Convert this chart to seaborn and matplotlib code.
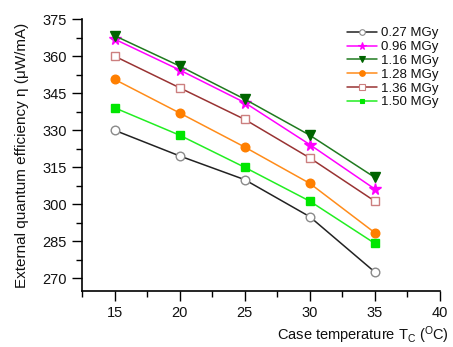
import matplotlib
matplotlib.use("Agg")
import matplotlib.pyplot as plt
import seaborn as sns
import pandas as pd
from matplotlib.ticker import MultipleLocator
from matplotlib.lines import Line2D

sns.set_style("ticks")
plt.rcParams['font.family'] = ['Liberation Sans', 'DejaVu Sans']
plt.rcParams['mathtext.fontset'] = 'custom'
plt.rcParams['mathtext.rm'] = 'Liberation Sans'
plt.rcParams['mathtext.it'] = 'Liberation Sans'
plt.rcParams['text.color'] = '#111111'
plt.rcParams['axes.labelcolor'] = '#111111'

temperature = [15, 20, 25, 30, 35]
doses = ["0.27 MGy", "0.96 MGy", "1.16 MGy", "1.28 MGy", "1.36 MGy", "1.50 MGy"]
eta_027 = [330.0, 319.6, 310.0, 295.0, 272.6]
eta_096 = [366.9, 354.4, 341.2, 324.2, 306.2]
eta_116 = [368.3, 356.0, 342.6, 328.0, 310.9]
eta_128 = [350.6, 337.0, 323.2, 308.5, 288.5]
eta_136 = [360.0, 347.2, 334.4, 318.8, 301.3]
eta_150 = [339.1, 328.0, 315.0, 301.3, 284.2]
series = [eta_027, eta_096, eta_116, eta_128, eta_136, eta_150]

styles = [
    dict(color="#222222", marker="o", mfc="white", mec="#8a8a8a", ms=6.2),
    dict(color="#ff00ff", marker="*", mfc="#ff00ff", mec="#ff00ff", ms=8.5),
    dict(color="#1f7a1f", marker="v", mfc="#006400", mec="#006400", ms=6.5),
    dict(color="#ff8c1a", marker="o", mfc="#ff7f00", mec="#ff7f00", ms=6.2),
    dict(color="#993333", marker="s", mfc="white", mec="#cc7f7f", ms=5.6),
    dict(color="#22ee22", marker="s", mfc="#00e600", mec="#00e600", ms=5.2),
]

df = pd.DataFrame({
    "T": temperature * len(doses),
    "eta": sum(series, []),
    "dose": [d for d in doses for _ in temperature],
})

fig = plt.figure(figsize=(4.53, 3.47), dpi=100)
ax = fig.add_axes([0.181, 0.162, 0.790, 0.783])

handles = []
for d, st in zip(doses, styles):
    sub = df[df["dose"] == d]
    sns.lineplot(data=sub, x="T", y="eta", ax=ax, legend=False,
                 color=st["color"], marker=st["marker"],
                 markerfacecolor=st["mfc"], markeredgecolor=st["mec"],
                 markersize=st["ms"], markeredgewidth=1.0, linewidth=1.1)
    handles.append(Line2D([], [], color=st["color"], marker=st["marker"],
                          markerfacecolor=st["mfc"], markeredgecolor=st["mec"],
                          markersize=st["ms"] * 0.65, markeredgewidth=0.8,
                          linewidth=1.1, label=d))

ax.set_xlim(12.5, 40)
ax.set_ylim(265, 375)
ax.set_xticks([15, 20, 25, 30, 35, 40])
ax.set_yticks([270, 285, 300, 315, 330, 345, 360, 375])
ax.xaxis.set_minor_locator(MultipleLocator(2.5))
ax.yaxis.set_minor_locator(MultipleLocator(7.5))
ax.tick_params(which="major", direction="out", length=7.5, width=1, labelsize=10.5,
               color="black", labelcolor="#111111")
ax.tick_params(which="minor", direction="out", length=4.3, width=1, color="black")
for s in ["top", "right"]:
    ax.spines[s].set_visible(False)
for s in ["left", "bottom"]:
    ax.spines[s].set_linewidth(1.2)
    ax.spines[s].set_color("black")

ax.set_xlabel("Case temperature T$_{\\mathregular{C}}$ ($^{\\mathregular{O}}$C)", fontsize=10.5)
ax.xaxis.set_label_coords(0.785, -0.122)
ax.set_ylabel("External quantum efficiency \u03b7 (\u03bcW/mA)", fontsize=11)
ax.yaxis.set_label_coords(-0.147, 0.5)

leg = ax.legend(handles=handles, loc="upper left", bbox_to_anchor=(0.7246, 0.99),
                frameon=False, fontsize=9.5, handlelength=2.27, handletextpad=0.33,
                labelspacing=0.12, borderaxespad=0, numpoints=1)

fig.savefig("out.png", dpi=100)
